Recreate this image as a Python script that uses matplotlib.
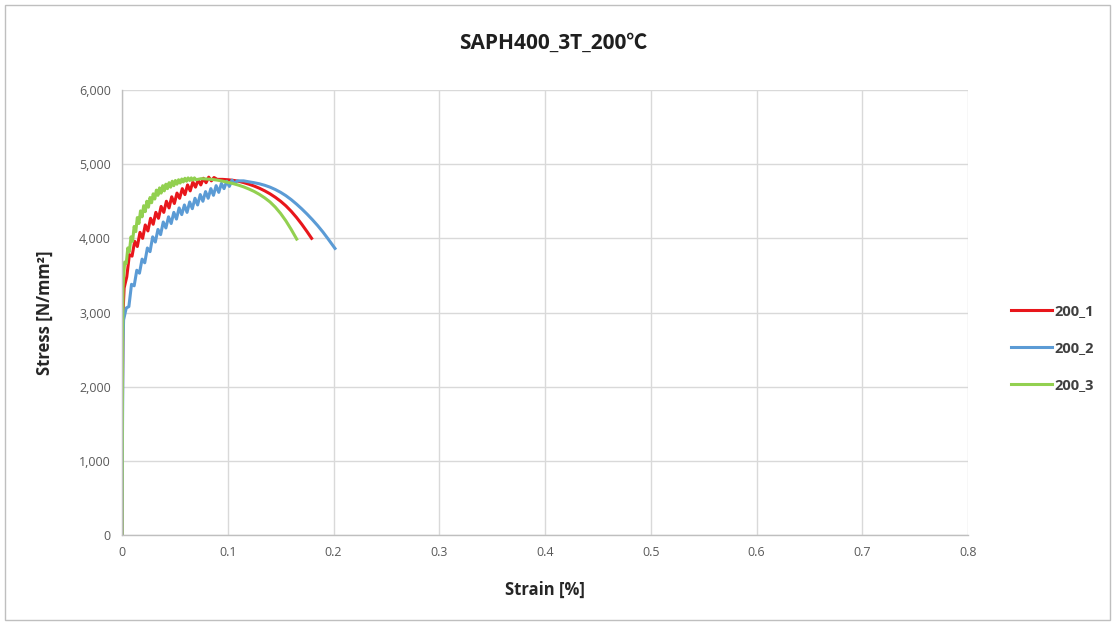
import matplotlib
matplotlib.use("Agg")
import matplotlib.pyplot as plt
from matplotlib.ticker import FuncFormatter, MultipleLocator
from matplotlib.patches import Rectangle

plt.rcParams['font.family'] = ['Open Sans', 'Noto Sans CJK KR', 'DejaVu Sans']

series_names = ["200_1", "200_2", "200_3"]

strain_1 = [0, 0.0005, 0.001, 0.002, 0.0045, 0.007, 0.0095, 0.012, 0.0145, 0.017, 0.0195,
            0.022, 0.0245, 0.027, 0.0295, 0.032, 0.0345, 0.037, 0.0395, 0.042, 0.0445, 0.047,
            0.0495, 0.052, 0.0545, 0.057, 0.0595, 0.062, 0.0645, 0.067, 0.0695, 0.072, 0.0745,
            0.077, 0.0795, 0.082, 0.0845, 0.087, 0.090, 0.095, 0.100, 0.105, 0.110, 0.115,
            0.120, 0.125, 0.130, 0.135, 0.140, 0.145, 0.150, 0.155, 0.160, 0.165, 0.170,
            0.175, 0.1793]
stress_1 = [0, 2000, 3000, 3330, 3480, 3780, 3760, 3960, 3890, 4080, 4000,
            4180, 4100, 4270, 4190, 4350, 4270, 4430, 4350, 4500, 4410, 4560,
            4470, 4610, 4540, 4670, 4590, 4720, 4640, 4760, 4690, 4790, 4720,
            4810, 4750, 4825, 4775, 4820, 4795, 4795, 4790, 4782, 4770, 4752,
            4730, 4705, 4675, 4640, 4600, 4553, 4500, 4438, 4365, 4282, 4190,
            4090, 4000]

strain_2 = [0, 0.0005, 0.001, 0.0015, 0.004, 0.0065, 0.009, 0.0115, 0.014, 0.0165, 0.019,
            0.0215, 0.024, 0.0265, 0.029, 0.0315, 0.034, 0.0365, 0.039, 0.0415, 0.044, 0.0465,
            0.049, 0.0515, 0.054, 0.0565, 0.059, 0.0615, 0.064, 0.0665, 0.069, 0.0715, 0.074,
            0.0765, 0.079, 0.0815, 0.084, 0.0865, 0.089, 0.0915, 0.094, 0.0965, 0.099, 0.1015,
            0.104, 0.1065, 0.109, 0.115, 0.120, 0.125, 0.130, 0.135, 0.140, 0.145, 0.150,
            0.155, 0.160, 0.165, 0.170, 0.175, 0.180, 0.185, 0.190, 0.195, 0.2014]
stress_2 = [0, 1500, 2600, 2900, 3060, 3080, 3380, 3360, 3570, 3530, 3720,
            3670, 3870, 3820, 4020, 3950, 4120, 4050, 4220, 4140, 4290, 4200,
            4350, 4260, 4410, 4320, 4450, 4350, 4490, 4400, 4540, 4450, 4590,
            4500, 4630, 4540, 4670, 4580, 4710, 4620, 4740, 4670, 4770, 4700,
            4785, 4740, 4775, 4775, 4762, 4750, 4735, 4715, 4690, 4658, 4620,
            4575, 4522, 4462, 4397, 4327, 4252, 4172, 4085, 3990, 3864]

strain_3 = [0, 0.0005, 0.001, 0.0025, 0.004, 0.0055, 0.007, 0.0085, 0.010, 0.0115, 0.013,
            0.0145, 0.016, 0.0175, 0.019, 0.0205, 0.022, 0.0235, 0.025, 0.0265, 0.028, 0.0295,
            0.031, 0.0325, 0.034, 0.0355, 0.037, 0.0385, 0.040, 0.0415, 0.043, 0.0445, 0.046,
            0.0475, 0.049, 0.0505, 0.052, 0.0535, 0.055, 0.0565, 0.058, 0.0595, 0.061, 0.0625,
            0.064, 0.0655, 0.067, 0.0685, 0.070, 0.075, 0.080, 0.085, 0.090, 0.095, 0.100,
            0.105, 0.110, 0.115, 0.120, 0.125, 0.130, 0.135, 0.140, 0.145, 0.150, 0.155,
            0.160, 0.1652]
stress_3 = [0, 2500, 3350, 3680, 3660, 3870, 3820, 4020, 3960, 4160, 4090,
            4280, 4200, 4370, 4290, 4440, 4360, 4500, 4420, 4550, 4480, 4600,
            4530, 4650, 4580, 4680, 4610, 4710, 4640, 4730, 4670, 4750, 4690,
            4770, 4710, 4780, 4730, 4790, 4745, 4800, 4760, 4810, 4770, 4815,
            4780, 4815, 4785, 4815, 4790, 4805, 4800, 4795, 4785, 4772, 4755,
            4738, 4718, 4694, 4665, 4632, 4592, 4545, 4490, 4420, 4335, 4235,
            4120, 3990]

colors = ["#E8161B", "#5B9BD5", "#92D050"]

fig = plt.figure(figsize=(11.16, 6.24), dpi=100)
ax = fig.add_axes([122/1116, 89/624, (968-122)/1116, (535-90)/624])

for sx, sy, c, n in zip([strain_1, strain_2, strain_3], [stress_1, stress_2, stress_3], colors, series_names):
    ax.plot(sx, sy, color=c, lw=2.2, label=n, solid_joinstyle='round')

ax.set_xlim(0, 0.8)
ax.set_ylim(0, 6000)
ax.xaxis.set_major_locator(MultipleLocator(0.1))
ax.yaxis.set_major_locator(MultipleLocator(1000))
ax.xaxis.set_major_formatter(FuncFormatter(lambda v, p: "0" if abs(v) < 1e-9 else f"{v:.1f}"))
ax.yaxis.set_major_formatter(FuncFormatter(lambda v, p: f"{int(round(v)):,}"))
ax.grid(True, color="#D9D9D9", lw=1)
ax.set_axisbelow(True)
for s in ["top", "right"]:
    ax.spines[s].set_visible(False)
for s in ["left", "bottom"]:
    ax.spines[s].set_color("#BFBFBF")
    ax.spines[s].set_linewidth(1)
ax.tick_params(axis='both', length=0, labelsize=9, labelcolor="#595959", pad=8)

ax.set_xlabel("Strain [%]", fontsize=12, fontweight='bold', color="#262626", labelpad=16)
ax.set_ylabel("Stress [N/mm²]", fontsize=12, fontweight='bold', color="#262626", labelpad=18)
fig.text(553/1116, 1 - 43/624, "SAPH400_3T_200℃", ha='center', va='center',
         fontsize=15, fontweight='bold', color="#1F1F1F")

leg = ax.legend(loc='center left', bbox_to_anchor=(1.035, 0.42), frameon=False,
                fontsize=10.5, handlelength=2.8, labelspacing=1.6, handletextpad=0.2)
for t in leg.get_texts():
    t.set_fontweight('bold')
    t.set_color("#404040")

fig.patches.append(Rectangle((5/1116, 4/624), 1105/1116, 615/624, transform=fig.transFigure,
                             fill=False, edgecolor="#BFBFBF", lw=1))

fig.savefig("out.png", dpi=100)
